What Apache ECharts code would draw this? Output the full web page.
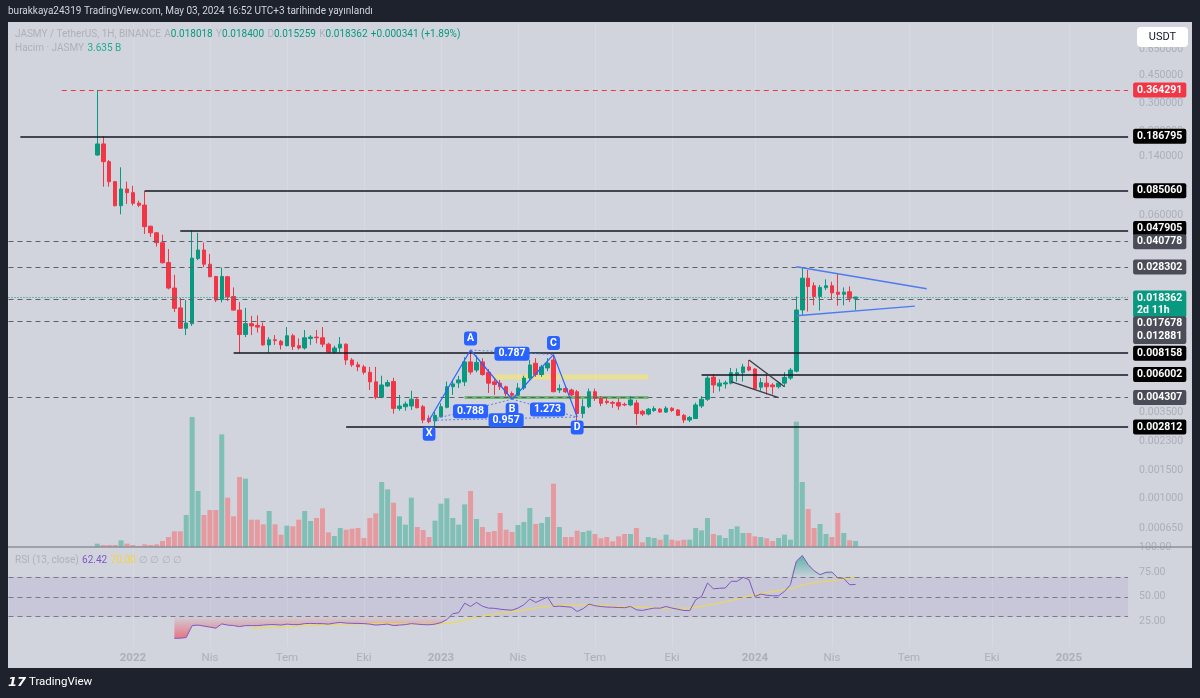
<!DOCTYPE html>
<html><head><meta charset="utf-8">
<script src="https://cdn.jsdelivr.net/npm/echarts/dist/echarts.min.js"></script>
<style>
html,body{margin:0;padding:0;background:#1e222d;width:1200px;height:698px;overflow:hidden;}
#panel{position:absolute;left:8px;top:22px;width:1184px;height:646px;background:#d1d4dc;}
#chart{position:absolute;left:0;top:0;width:1200px;height:698px;}
</style></head><body>
<div id="panel"></div><div id="chart"></div>
<script>
// ---------------- data ----------------
const firstWeek = '2021-11-15';
const open = [0.1426,0.1672,0.1295,0.0970,0.0686,0.0873,0.0828,0.0712,0.0692,0.0510,
0.0464,0.0402,0.0302,0.0209,0.0157,0.0117,0.0125,0.0320,0.0362,0.0295,
0.0247,0.0177,0.0246,0.0185,0.0152,0.0107,0.0125,0.0122,0.0120,0.0092,
0.0099,0.0097,0.0091,0.0105,0.0091,0.0088,0.0101,0.0103,0.0102,0.0093,
0.0083,0.0088,0.0093,0.0074,0.0069,0.0067,0.0062,0.0054,0.00432,0.00508,
0.00542,0.00368,0.00377,0.00381,0.00420,0.00377,0.00319,0.00307,0.00326,0.00374,
0.00503,0.00532,0.00540,0.00720,0.0064,0.0072,0.0062,0.0054,0.0053,0.00503,
0.00456,0.00445,0.00494,0.0057,0.00706,0.0060,0.0066,0.0074,0.0048,0.0049,
0.0048,0.00468,0.00342,0.00377,0.00468,0.00426,0.00408,0.00401,0.00400,0.0039,
0.00387,0.00398,0.00353,0.00339,0.00357,0.00364,0.00349,0.00369,0.0036,0.00333,
0.00311,0.00318,0.00381,0.0042,0.00578,0.00508,0.00524,0.0053,0.0060,0.00616,
0.0067,0.0065,0.0050,0.0053,0.00516,0.00503,0.0053,0.0057,0.0063,0.01523,
0.0241,0.0216,0.0185,0.0210,0.0216,0.0197,0.0191,0.0198,0.018018];
const high = [0.364291,0.186795,0.1327,0.0980,0.1194,0.0970,0.0914,0.0738,0.08506,0.0515,
0.0469,0.0451,0.0367,0.0253,0.0181,0.0176,0.047905,0.0464,0.0403,0.0342,
0.0249,0.0281,0.0249,0.0211,0.0171,0.0157,0.0140,0.0141,0.0127,0.0103,
0.0106,0.0099,0.0119,0.0108,0.0101,0.0114,0.0106,0.0114,0.0119,0.0095,
0.0091,0.0103,0.0094,0.0076,0.0072,0.0069,0.0067,0.0067,0.0059,0.00555,
0.00572,0.00447,0.00406,0.00475,0.00426,0.00387,0.00333,0.00350,0.00396,0.00542,
0.00555,0.00589,0.0077,0.00855,0.0079,0.0076,0.0065,0.0057,0.00555,0.0051,
0.0047,0.0053,0.0059,0.0074,0.0076,0.0069,0.0076,0.0080,0.0052,0.0050,
0.0049,0.0048,0.0042,0.0049,0.0049,0.0044,0.00426,0.0041,0.00426,0.0040,
0.0044,0.00416,0.0036,0.0037,0.0038,0.0037,0.0038,0.00375,0.00365,0.0034,
0.0033,0.0040,0.0044,0.0059,0.00603,0.0056,0.0055,0.0066,0.00656,0.0070,
0.0074,0.00656,0.0057,0.0060,0.0053,0.0054,0.0062,0.0066,0.0185,0.028302,
0.0271,0.0227,0.0218,0.0237,0.0229,0.0256,0.0211,0.0214,0.0184];
const low = [0.1410,0.0902,0.0902,0.0679,0.0606,0.0704,0.0688,0.0672,0.0456,0.0437,
0.0380,0.0298,0.0205,0.0148,0.0116,0.0106,0.0121,0.0313,0.0283,0.0245,
0.0171,0.0170,0.0173,0.0151,0.008158,0.0103,0.0106,0.0110,0.0091,0.0082,
0.0092,0.0086,0.0090,0.00855,0.0086,0.0086,0.0092,0.0094,0.0089,0.0082,
0.0081,0.0082,0.0069,0.0067,0.0063,0.0060,0.0048,0.0042,0.00426,0.00503,
0.00341,0.00356,0.00356,0.00360,0.00368,0.00297,0.00297,0.00284,0.00323,0.00368,
0.00447,0.00495,0.00508,0.0060,0.0062,0.0059,0.0046,0.00447,0.0048,0.0044,
0.00426,0.0044,0.0048,0.00555,0.0058,0.0058,0.0063,0.00465,0.0046,0.0046,
0.0044,0.00304,0.0032,0.0037,0.0041,0.0038,0.0039,0.0037,0.0036,0.0038,
0.0038,0.00290,0.0033,0.00333,0.0035,0.00345,0.00345,0.0035,0.0033,0.00298,
0.00302,0.00316,0.0037,0.0041,0.0046,0.0047,0.0049,0.0052,0.00542,0.00542,
0.0063,0.0048,0.00475,0.0045,0.0045,0.0049,0.00503,0.00555,0.0062,0.0142,
0.0149,0.0163,0.0151,0.0203,0.0177,0.0162,0.0163,0.0171,0.015259];
const close = [0.1672,0.1295,0.0970,0.0686,0.0873,0.0828,0.0710,0.0690,0.0507,0.0464,
0.0402,0.0301,0.0209,0.0156,0.0117,0.0126,0.0322,0.0362,0.0295,0.0246,
0.0176,0.0247,0.0184,0.0152,0.0107,0.0125,0.0121,0.0119,0.0092,0.0099,
0.0098,0.0092,0.0105,0.0090,0.0088,0.0102,0.0103,0.0102,0.0093,0.0083,
0.0088,0.0093,0.0074,0.0069,0.0067,0.0062,0.0054,0.00432,0.00516,0.00534,
0.00368,0.00381,0.00392,0.00420,0.00372,0.00311,0.00304,0.00333,0.00377,0.00503,
0.00524,0.00555,0.00720,0.00622,0.00715,0.0060,0.0053,0.0052,0.00503,0.00456,
0.00445,0.00494,0.0057,0.00689,0.0060,0.0067,0.00706,0.00468,0.0049,0.00468,
0.00447,0.00342,0.00377,0.00468,0.00426,0.00396,0.00401,0.00396,0.00381,0.00387,
0.00416,0.00342,0.00339,0.00364,0.00367,0.00349,0.00369,0.00357,0.00333,0.00311,
0.00323,0.00387,0.00420,0.0057,0.00516,0.0053,0.00532,0.00616,0.00616,0.0067,
0.0064,0.0049,0.00534,0.00503,0.00503,0.0053,0.00576,0.0064,0.01523,0.0241,
0.0214,0.0185,0.0211,0.0216,0.0195,0.0191,0.0197,0.018021,0.018362];
const volumeB = [2.0,1.2,1.2,1.2,4.0,2.0,1.2,0.6,1.6,1.2,
1.6,3.6,6.0,9.4,9.4,19.2,78,33.6,19.2,22.2,
22.2,67.6,29.6,18.4,42,41,16.4,16.4,13.6,21.6,
13.6,7.4,12.8,12.4,16.4,21.6,15.6,17.4,23.2,8.8,
6.6,11.4,10.4,11,11.4,5.4,17.4,20.2,39,34.6,
26.6,18.4,13.4,29.6,12,10.2,6,15.8,26,29.2,
17.4,13.4,25.6,33.6,16.8,12,9,9.6,20.4,10.4,
9,13.2,15,23.4,13.8,14.4,18,38,12,6,
6,9.8,9,9.8,7.8,5.2,6,3.4,6.4,7.8,
7.8,11.4,2.8,6,5.4,4.4,7.4,4.4,3.8,4.4,
4.4,11.4,10,17.4,7.8,7,5.4,10.8,12.4,8.4,
8.4,6.4,6,5.2,3.6,5.4,7.4,4.4,75.2,39,
22.8,11.4,13.8,7.8,6,20.4,8.4,4,3.635];
const rsiStart = 13;
const rsi = [8.3,8.3,9,21,21.5,20.5,19.5,18.4,22.7,21.5,
21,20,21,21,21,21.5,22,22,21.5,22.5,
22,22,23,23.2,23,23,22.5,23.5,24.2,23.5,
23.3,23.2,23,22.5,21.5,22,22.5,21,21.5,22,
23,22.5,22,21.8,22.5,24,27,33,34,43.5,
40.2,44.3,40.5,38.6,38.4,37.5,36.9,36.5,38.6,42,
47.7,44.3,47,49.7,40.2,40.5,40,39.5,35.2,38,
42.6,41,40.2,39.6,39.5,39.2,39,40.2,36.9,36.2,
37.5,38.6,38.5,40.2,38.6,37.5,36.2,36,47,50.3,
63.8,58,58.5,58.8,65.5,65.5,69.5,67.2,50.3,52.7,
51.5,51,51,55.4,62.1,85.7,91.4,82.3,76,72.2,
74.5,74.8,68.9,68.5,62.0,62.42];
const rsiMaStart = 26;
const rsiMa = [18.4,18.6,18.8,19.0,19.3,19.6,19.9,20.2,20.5,20.7,
21.0,21.3,21.6,21.9,22.1,22.3,22.5,22.6,22.7,22.8,
22.9,23.0,23.0,23.0,22.9,22.8,22.7,22.6,22.6,22.5,
22.5,22.6,22.8,23.2,24.0,25.0,26.5,27.8,29.2,30.5,
31.6,32.6,33.5,34.3,35.0,35.7,36.6,37.6,38.6,39.6,
40.5,40.9,41.1,41.3,41.4,41.4,41.4,41.4,41.4,41.3,
41.0,40.7,40.4,40.1,39.8,39.6,39.3,39.0,38.7,38.6,
38.6,38.6,38.5,38.5,38.6,39.4,40.2,41.3,42.5,43.6,
44.8,46.2,47.6,49.3,50.7,51.8,53.0,54.2,55.2,56.2,
57.2,58.0,59.5,61.8,63.3,64.2,64.8,65.5,66.2,66.8,
67.8,68.8,70.0];
// horizontal levels (price) and the bar (candle index) where each drawing starts
const levelPrices   = [0.364291,0.186795,0.085060,0.047905,0.040778,0.028302,0.018362,0.017678,0.012881,0.008158,0.006002,0.004307,0.002812];
const levelStartBar = [-6,-13,8,14,-15,-15,-15,-15,-15,23,102,-15,42];
const levelKind     = ['ath','solid','solid','solid','dash','dash','last','dash','dash','solid','solid','dash','solid'];
// XABCD pattern
const patternNames  = ['X','A','B','C','D'];
const patternBars   = [56,63,70,77,81];
const patternPrices = [0.0031,0.00855,0.0042,0.0080,0.00325];
const patternRatios = [['0.788',0,2],['0.787',1,3],['1.273',2,4],['0.957',0,4]];
// other drawings
const wedgeLines    = [[[110,0.0074],[116,0.00503]],[[107,0.00542],[115,0.0043]]];
const triangleLines = [[[118,0.0284],[140,0.0207]],[[118,0.0140],[138,0.0161]]];
const yellowZone = [[67,0.0060],[93,0.00559]];
const greenZone  = [[62,0.00440],[93,0.00421]];
// axis labels
const priceTicks = [0.65,0.45,0.3,0.2,0.14,0.06,0.0035,0.0023,0.0015,0.001,0.00065];
const timeLabels = {'2021-12-27':'2022','2022-03-28':'Nis','2022-06-27':'Tem','2022-09-26':'Eki',
 '2022-12-26':'2023','2023-03-27':'Nis','2023-06-26':'Tem','2023-09-25':'Eki',
 '2024-01-01':'2024','2024-04-01':'Nis','2024-07-01':'Tem','2024-10-07':'Eki','2025-01-06':'2025'};

// ---------------- layout ----------------
const LEAD = 15, SLOTS = 190, LAST = SLOTS - 1;
const PMIN = 0.000498, PMAX = 0.9579;
const weeks = [];
const t0 = Date.parse(firstWeek + 'T00:00:00Z') - LEAD * 7 * 86400000;
for (let k = 0; k < SLOTS; k++) weeks.push(new Date(t0 + k * 7 * 86400000).toISOString().slice(0, 10));
const cx = i => LEAD + i;

const UP = '#089981', DN = '#f23645';
const candleData = open.map((o, i) => [cx(i), o, close[i], low[i], high[i]]);
const volData = volumeB.map((v, i) => ({value: [cx(i), v], itemStyle: {color: close[i] >= open[i] ? '#7fbfb6' : '#e59a9f'}}));
const rsiData = rsi.map((v, k) => [cx(rsiStart + k), v]);
const rsiMaData = rsiMa.map((v, k) => [cx(rsiMaStart + k), v]);
const rsiLowFill = rsi.map((v, k) => [cx(rsiStart + k), Math.min(v, 30)]);
const rsiHighFill = rsi.map((v, k) => [cx(rsiStart + k), Math.max(v, 70)]);

const FONT = 'Roboto, "Noto Sans", sans-serif';
function tag(text, bg, dy) {
  return {show: true, position: 'end', distance: 5, formatter: text, backgroundColor: bg, color: '#fff',
    fontSize: 10.5, fontWeight: 'bold', fontFamily: FONT, padding: [2, 4, 1, 4], borderRadius: 2,
    lineHeight: 12, offset: [0, dy || 0]};
}
const styles = {
  ath: {color: '#f23645', width: 1, type: [5, 4]},
  solid: {color: '#131722', width: 1.5, type: 'solid'},
  dash: {color: '#5d606b', width: 1, type: [5, 4]},
  last: {color: '#089981', width: 1, type: [1, 2]}
};
const tagBg = {ath: '#f23645', solid: '#000000', dash: '#4a4d57', last: '#089981'};
const tagDy = {0.047905: -2, 0.017678: 24, 0.012881: 15, 0.018362: 7};
const markLines = levelPrices.map((p, k) => {
  const kind = levelKind[k];
  const txt = kind === 'last' ? p.toFixed(6) + '\n2d 11h' : p.toFixed(6);
  return [{coord: [cx(levelStartBar[k]), p], lineStyle: styles[kind], label: tag(txt, tagBg[kind], tagDy[p])},
          {coord: [LAST, p]}];
});
const blue = '#2962ff';
const seg = (a, b, st) => [{coord: a, lineStyle: st, label: {show: false}}, {coord: b}];
for (let k = 0; k < 4; k++) {
  markLines.push(seg([cx(patternBars[k]), patternPrices[k]], [cx(patternBars[k + 1]), patternPrices[k + 1]], {color: blue, width: 1.2, type: 'solid'}));
}
patternRatios.forEach(r => {
  markLines.push(seg([cx(patternBars[r[1]]), patternPrices[r[1]]], [cx(patternBars[r[2]]), patternPrices[r[2]]], {color: '#5b7fe6', width: 1, type: [2, 2]}));
});
wedgeLines.forEach(l => markLines.push(seg([cx(l[0][0]), l[0][1]], [cx(l[1][0]), l[1][1]], {color: '#3a3d46', width: 1.3, type: 'solid'})));
triangleLines.forEach(l => markLines.push(seg([cx(l[0][0]), l[0][1]], [cx(l[1][0]), l[1][1]], {color: '#4f7af0', width: 1.4, type: 'solid'})));

const boxLabel = (text, dy) => ({show: true, position: 'inside', offset: [0, dy], formatter: text, backgroundColor: blue,
  color: '#fff', fontSize: 10.5, fontWeight: 'bold', fontFamily: FONT, padding: [2, 4, 1, 4], borderRadius: 3});
const letterDy = {X: 14, A: -11, B: 11, C: -11, D: 11};
const markPoints = patternNames.map((n, k) => ({coord: [cx(patternBars[k]), patternPrices[k]], value: n,
  symbolSize: 1, itemStyle: {color: 'rgba(0,0,0,0)'}, label: Object.assign(boxLabel(n, letterDy[n]), {padding: [2, 3, 1, 3]})}));
patternRatios.forEach(r => {
  const a = r[1], b = r[2];
  const c = Math.round((cx(patternBars[a]) + cx(patternBars[b])) / 2);
  const p = Math.sqrt(patternPrices[a] * patternPrices[b]);
  markPoints.push({coord: [c, p], value: r[0], symbolSize: 1, itemStyle: {color: 'rgba(0,0,0,0)'}, label: boxLabel(r[0], 2)});
});

const labelInterval = (idx, val) => !!timeLabels[val];
const xBase = {type: 'category', data: weeks, boundaryGap: false,
  axisLine: {show: false}, axisTick: {show: false},
  splitLine: {show: true, interval: labelInterval, lineStyle: {color: '#d7dae1', width: 1}}};

const axisLabelStyle = {color: '#acafb8', fontSize: 10.5, fontFamily: FONT};
const HF = '10px ' + FONT;

const option = {
  animation: false,
  backgroundColor: 'transparent',
  grid: [
    {left: 8.5, top: 23, width: 1119.6, height: 524},
    {left: 8.5, top: 547, width: 1119.6, height: 99.5}
  ],
  xAxis: [
    Object.assign({}, xBase, {gridIndex: 0, axisLabel: {show: false}}),
    Object.assign({}, xBase, {gridIndex: 1, axisLabel: {show: true, interval: labelInterval, margin: 6,
      formatter: v => { const t = timeLabels[v]; return /^\d/.test(t) ? '{y|' + t + '}' : t; },
      color: '#acafb8', fontSize: 11.5, fontFamily: FONT, rich: {y: {fontWeight: 'bold', color: '#acafb8', fontSize: 11.5, fontFamily: FONT}}}})
  ],
  yAxis: [
    {gridIndex: 0, type: 'log', logBase: 10, min: PMIN, max: PMAX, position: 'left', show: false},
    {gridIndex: 0, type: 'value', min: 0, max: 314.4, position: 'left', show: false},
    {gridIndex: 0, type: 'value', min: Math.log10(PMIN), max: Math.log10(PMAX), position: 'right',
      axisLine: {show: false}, axisTick: {show: false}, splitLine: {show: false},
      axisLabel: Object.assign({customValues: priceTicks.map(Math.log10), margin: 11,
        formatter: v => Math.pow(10, v).toFixed(6)}, axisLabelStyle)},
    {gridIndex: 1, type: 'value', min: 0, max: 100, interval: 25, position: 'right',
      axisLine: {show: false}, axisTick: {show: false}, splitLine: {show: false},
      axisLabel: Object.assign({showMinLabel: false, margin: 11, formatter: v => v.toFixed(2)}, axisLabelStyle)}
  ],
  series: [
    {type: 'bar', name: 'Hacim', xAxisIndex: 0, yAxisIndex: 1, data: volData, barWidth: 5, z: 1, silent: true},
    {type: 'candlestick', name: 'JASMY', xAxisIndex: 0, yAxisIndex: 0, barWidth: 4, z: 3,
      dimensions: ['t', 'open', 'close', 'lowest', 'highest'], encode: {x: 0, y: [1, 2, 3, 4]},
      data: candleData,
      itemStyle: {color: UP, color0: DN, borderColor: UP, borderColor0: DN, borderWidth: 1},
      markLine: {symbol: ['none', 'none'], silent: true, animation: false, data: markLines, z: 4},
      markArea: {silent: true, data: [
        [{coord: [cx(yellowZone[0][0]), yellowZone[0][1]], itemStyle: {color: 'rgba(250,232,100,0.6)'}}, {coord: [cx(yellowZone[1][0]), yellowZone[1][1]]}],
        [{coord: [cx(greenZone[0][0]), greenZone[0][1]], itemStyle: {color: 'rgba(76,175,80,0.75)'}}, {coord: [cx(greenZone[1][0]), greenZone[1][1]]}]
      ]},
      markPoint: {silent: true, animation: false, data: markPoints, z: 6}
    },
    {type: 'line', name: 'rsiLowFill', xAxisIndex: 1, yAxisIndex: 3, data: rsiLowFill, symbol: 'none', silent: true,
      lineStyle: {width: 0}, z: 1,
      areaStyle: {origin: 30, color: new echarts.graphic.LinearGradient(0, 0, 0, 1, [
        {offset: 0, color: 'rgba(242,54,69,0.05)'}, {offset: 1, color: 'rgba(242,54,69,0.85)'}])}},
    {type: 'line', name: 'rsiHighFill', xAxisIndex: 1, yAxisIndex: 3, data: rsiHighFill, symbol: 'none', silent: true,
      lineStyle: {width: 0}, z: 1,
      areaStyle: {origin: 70, color: new echarts.graphic.LinearGradient(0, 0, 0, 1, [
        {offset: 0, color: 'rgba(8,153,129,0.85)'}, {offset: 1, color: 'rgba(8,153,129,0.05)'}])}},
    {type: 'line', name: 'RSI', xAxisIndex: 1, yAxisIndex: 3, data: rsiData, symbol: 'none', silent: true,
      lineStyle: {color: '#7e57c2', width: 1}, z: 3,
      markArea: {silent: true, itemStyle: {color: 'rgba(126,87,194,0.1)'}, data: [[{coord: [0, 70]}, {coord: [LAST, 30]}]]},
      markLine: {symbol: ['none', 'none'], silent: true, label: {show: false},
        lineStyle: {color: '#787b86', width: 1, type: [5, 4]},
        data: [70, 50, 30].map(v => [{coord: [0, v]}, {coord: [LAST, v]}])}},
    {type: 'line', name: 'RSI MA', xAxisIndex: 1, yAxisIndex: 3, data: rsiMaData, symbol: 'none', silent: true,
      lineStyle: {color: '#f5d93b', width: 1}, z: 2}
  ],
  graphic: [
    {type: 'line', z: 50, shape: {x1: 8, y1: 547, x2: 1192, y2: 547}, style: {stroke: '#8e919a', lineWidth: 1.5}},
    {type: 'text', z: 50, left: 8, top: 6, style: {text: 'burakkaya24319 TradingView.com, May 03, 2024 16:52 UTC+3 tarihinde yayınlandı',
      fill: '#d1d4dc', font: HF}},
    {type: 'text', z: 50, left: 15, top: 28, style: {
      text: '{d|JASMY / TetherUS, 1H, BINANCE} {d|A}{g|0.018018} {d|Y}{g|0.018400} {d|D}{g|0.015259} {d|K}{g|0.018362} {g|+0.000341 (+1.89%)}',
      rich: {d: {fill: '#aeb1b9', font: HF}, g: {fill: '#089981', font: HF}}}},
    {type: 'text', z: 50, left: 15, top: 42, style: {
      text: '{d|Hacim · JASMY} {g|3.635 B}',
      rich: {d: {fill: '#aeb1b9', font: HF}, g: {fill: '#22ab94', font: HF}}}},
    {type: 'text', z: 50, left: 15, top: 554, style: {
      text: '{d|RSI (13, close)} {p|62.42} {y|70.00} {d|∅ ∅ ∅ ∅}',
      rich: {d: {fill: '#aeb1b9', font: HF}, p: {fill: '#7e57c2', font: HF}, y: {fill: '#f7d33b', font: HF}}}},
    {type: 'rect', z: 60, shape: {x: 1137, y: 27, width: 51, height: 20, r: 4}, style: {fill: '#ffffff'}},
    {type: 'text', z: 61, x: 1162.5, y: 37, style: {text: 'USDT', fill: '#131722', font: '11px ' + FONT, align: 'center', verticalAlign: 'middle'}},
    {type: 'text', z: 50, left: 8, top: 676, style: {text: '{l|17} TradingView',
      rich: {l: {fill: '#ffffff', font: 'italic 900 13px "DejaVu Sans"'}}, fill: '#ffffff', font: '11.5px ' + FONT}}
  ]
};
const chart = echarts.init(document.getElementById('chart'), null, {renderer: 'canvas', width: 1200, height: 698});
chart.setOption(option);
</script></body></html>
